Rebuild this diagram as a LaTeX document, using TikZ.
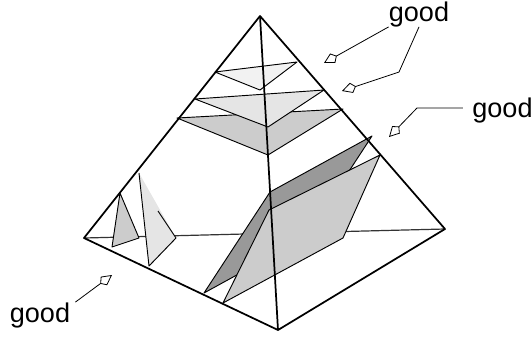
\documentclass[tikz,border=0pt]{standalone}
\usepackage{fontspec}
\setmainfont{Liberation Sans}
\usetikzlibrary{arrows.meta}
\tikzset{
	edge/.style={line width=1.3pt},
	thin edge/.style={line width=0.7pt},
	pointer/.style={line width=0.6pt,-{Kite[open,length=11pt,width=8pt,inset=3.5pt]}},
	label/.style={anchor=base,inner sep=0pt,font=\fontsize{20.3}{24}\selectfont}
}
\begin{document}
\begin{tikzpicture}[x=0.75pt,y=-0.75pt,line join=round]
	\useasboundingbox (0,0) rectangle (532,340);
	\coordinate (apex) at (260,16);
	\coordinate (left) at (84,238);
	\coordinate (right) at (445,229);
	\coordinate (front) at (278,330);
	% back edge
	\draw[line width=0.9pt,black!80] (left)--(right);
	% small shapes on the left
	\filldraw[fill=black!20,thin edge] (120,193)--(139,238)--(112,247)--cycle;
	\fill[black!10] (139,173)--(176,238)--(149,266)--cycle;
	\draw[thin edge] (158,211)--(176,238)--(149,266)--(139,173);
	% slabs
	\filldraw[fill=black!40,thin edge] (372,136)--(270,192)--(204,293)--(306,237)--cycle;
	\filldraw[fill=black!20,thin edge] (380,155)--(269,210)--(223,303)--(343,238)--cycle;
	% levels
	\filldraw[fill=black!20,thin edge] (177,118)--(343,109)--(268,155)--cycle;
	\filldraw[fill=black!10,thin edge] (195,99)--(324,90)--(268,127)--cycle;
	\filldraw[fill=black!5,thin edge] (215,72)--(297,62)--(260,90)--cycle;
	% pyramid
	\draw[edge] (apex)--(left)--(front)--(right)--cycle;
	\draw[edge] (apex)--(front);
	% labels
	\node[label] (goodtop) at (419,21) {good};
	\node[label] (goodright) at (502.5,117) {good};
	\node[label] (goodleft) at (40,322) {good};
	\coordinate (tipa) at (324,63);
	\coordinate (tipb) at (342,91);
	\coordinate (bendb) at (399,72);
	\coordinate (tipc) at (389,137);
	\coordinate (bendc) at (417,108);
	\coordinate (tipd) at (112,275);
	\draw[pointer] (goodtop.south west)--(tipa);
	\draw[pointer] (goodtop.south)--(bendb)--(tipb);
	\draw[pointer] ([xshift=-7pt,yshift=1.5pt]goodright.west)--(bendc)--(tipc);
	\draw[pointer] ([xshift=3.75pt]goodleft.north east)--(tipd);
\end{tikzpicture}
\end{document}
